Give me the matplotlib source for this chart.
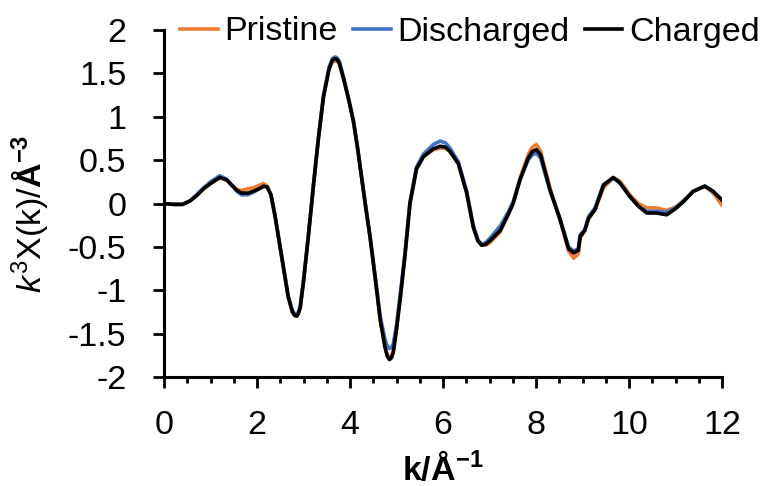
import matplotlib
matplotlib.use("agg")
import matplotlib.pyplot as plt
from matplotlib.ticker import MultipleLocator

plt.rcParams["font.family"] = ["Liberation Sans", "DejaVu Sans"]
plt.rcParams["mathtext.fontset"] = "custom"
plt.rcParams["mathtext.rm"] = "Liberation Sans"
plt.rcParams["mathtext.it"] = "Liberation Sans:italic"
plt.rcParams["mathtext.bf"] = "Liberation Sans:bold"

# k values (1/Angstrom)
k = [0, 0.2, 0.4, 0.56, 0.7, 0.85, 1.0, 1.2, 1.35, 1.46, 1.57, 1.67, 1.8, 1.92,
     2.05, 2.14, 2.22, 2.3, 2.39, 2.53, 2.67, 2.76, 2.81, 2.85, 2.89, 2.93,
     3.0, 3.1, 3.21, 3.32, 3.43, 3.55, 3.62, 3.68, 3.72, 3.77, 3.87, 3.97,
     4.07, 4.16, 4.25, 4.34, 4.43, 4.54, 4.65, 4.75, 4.80, 4.85, 4.89, 4.93,
     5.0, 5.09, 5.18, 5.29, 5.43, 5.58, 5.79, 5.94, 6.05, 6.15, 6.33, 6.51,
     6.65, 6.75, 6.83, 6.92, 7.01, 7.23, 7.4, 7.51, 7.66, 7.83, 7.92, 8.01,
     8.1, 8.3, 8.52, 8.7, 8.81, 8.91, 8.95, 9.05, 9.13, 9.27, 9.45, 9.66, 9.8,
     10.02, 10.2, 10.38, 10.59, 10.81, 11.0, 11.17, 11.38, 11.63, 11.81, 12.0]

charged = [0.0, -0.01, -0.01, 0.03, 0.09, 0.17, 0.23, 0.30, 0.27, 0.21, 0.15,
           0.12, 0.12, 0.14, 0.17, 0.20, 0.19, 0.10, -0.15, -0.61, -1.07,
           -1.25, -1.29, -1.30, -1.27, -1.20, -0.90, -0.40, 0.19, 0.75, 1.23,
           1.55, 1.65, 1.67, 1.66, 1.62, 1.42, 1.20, 0.96, 0.65, 0.30, -0.05,
           -0.38, -0.85, -1.34, -1.65, -1.76, -1.80, -1.78, -1.72, -1.45,
           -1.05, -0.61, 0.0, 0.40, 0.54, 0.63, 0.66, 0.65, 0.60, 0.46, 0.12,
           -0.27, -0.43, -0.48, -0.47, -0.43, -0.31, -0.13, 0.0, 0.28, 0.52,
           0.60, 0.62, 0.56, 0.16, -0.19, -0.52, -0.57, -0.54, -0.38, -0.31,
           -0.17, -0.07, 0.21, 0.30, 0.24, 0.08, -0.03, -0.11, -0.11, -0.13,
           -0.06, 0.02, 0.14, 0.20, 0.14, 0.04]

pristine = [0.0, -0.01, -0.01, 0.03, 0.09, 0.17, 0.23, 0.30, 0.27, 0.21, 0.16,
            0.15, 0.17, 0.18, 0.21, 0.23, 0.20, 0.10, -0.15, -0.61, -1.07,
            -1.25, -1.28, -1.29, -1.26, -1.20, -0.90, -0.40, 0.19, 0.75, 1.23,
            1.55, 1.63, 1.65, 1.64, 1.61, 1.42, 1.20, 0.96, 0.65, 0.30, -0.05,
            -0.38, -0.85, -1.34, -1.64, -1.74, -1.78, -1.76, -1.70, -1.45,
            -1.05, -0.61, 0.0, 0.40, 0.54, 0.62, 0.64, 0.64, 0.60, 0.46, 0.12,
            -0.27, -0.43, -0.48, -0.48, -0.45, -0.33, -0.13, 0.02, 0.30, 0.56,
            0.65, 0.68, 0.60, 0.18, -0.19, -0.55, -0.63, -0.58, -0.40, -0.31,
            -0.18, -0.07, 0.18, 0.30, 0.26, 0.10, 0.0, -0.05, -0.05, -0.08,
            -0.04, 0.03, 0.14, 0.20, 0.12, -0.02]

discharged = [0.0, -0.01, -0.01, 0.03, 0.10, 0.18, 0.25, 0.32, 0.28, 0.21,
              0.14, 0.10, 0.10, 0.13, 0.17, 0.20, 0.19, 0.10, -0.15, -0.61,
              -1.07, -1.23, -1.27, -1.28, -1.25, -1.18, -0.88, -0.40, 0.19,
              0.75, 1.25, 1.57, 1.67, 1.69, 1.68, 1.64, 1.44, 1.21, 0.96, 0.65,
              0.30, -0.05, -0.38, -0.83, -1.30, -1.56, -1.64, -1.67, -1.66,
              -1.62, -1.40, -1.00, -0.58, 0.02, 0.42, 0.57, 0.68, 0.72, 0.70,
              0.64, 0.48, 0.14, -0.25, -0.42, -0.47, -0.45, -0.40, -0.26,
              -0.10, 0.02, 0.28, 0.50, 0.56, 0.58, 0.52, 0.15, -0.18, -0.50,
              -0.55, -0.52, -0.36, -0.30, -0.15, -0.05, 0.22, 0.29, 0.24, 0.08,
              -0.03, -0.09, -0.09, -0.10, -0.05, 0.03, 0.14, 0.20, 0.14, 0.04]

fig = plt.figure(figsize=(7.68, 4.86), dpi=100)
ax = fig.add_axes([164 / 768, 1 - 377 / 486, 558 / 768, 347 / 486])

ax.plot(k, pristine, color="#ED7D31", lw=2.6, label="Pristine")
ax.plot(k, discharged, color="#4472C4", lw=2.6, label="Discharged")
ax.plot(k, charged, color="black", lw=2.6, label="Charged")

ax.set_xlim(0, 12)
ax.set_ylim(-2, 2)
ax.xaxis.set_major_locator(MultipleLocator(2))
ax.xaxis.set_minor_locator(MultipleLocator(0.5))
ax.set_yticks([-2, -1.5, -1, -0.5, 0, 0.5, 1, 1.5, 2])
ax.set_yticklabels(["-2", "-1.5", "-1", "-0.5", "0", "0.5", "1", "1.5", "2"])

for s in ["top", "right"]:
    ax.spines[s].set_visible(False)
for s in ["left", "bottom"]:
    ax.spines[s].set_linewidth(2.2)

ax.tick_params(axis="both", which="major", direction="out", length=8,
               width=2, labelsize=24.5)
ax.tick_params(axis="y", which="major", pad=19)
ax.tick_params(axis="x", which="major", pad=16)
ax.tick_params(axis="x", which="minor", direction="out", length=4.5, width=2)

ax.set_xlabel(r"k/Å$^{\mathbf{-1}}$", fontsize=24.5, fontweight="bold")
ax.xaxis.set_label_coords(0.5, -0.215)
ax.set_ylabel(r"$\mathit{k}^{3}$X(k)/$\mathbf{Å}^{\mathbf{-3}}$", fontsize=24.5)
ax.yaxis.set_label_coords(-0.205, 0.47)

fig.legend(loc="center", bbox_to_anchor=(470 / 768, 1 - 32 / 486), ncol=3,
           frameon=False, fontsize=24.5, handlelength=1.1, handletextpad=0.2,
           columnspacing=0.45, borderpad=0, borderaxespad=0)

fig.savefig("out.png", dpi=100)
